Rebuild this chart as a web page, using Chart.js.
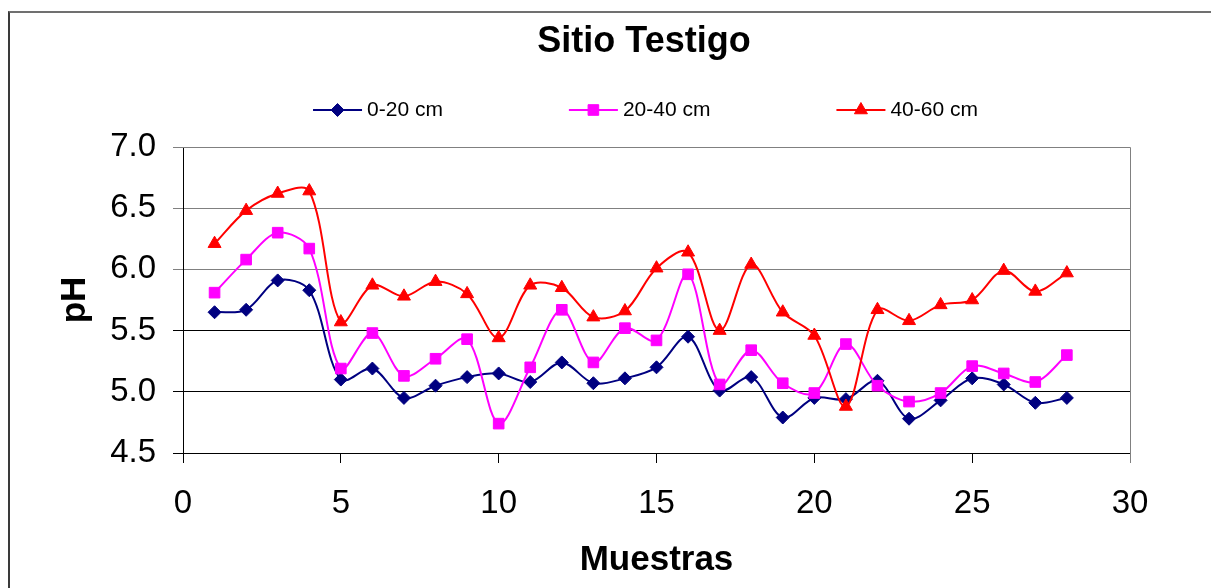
<!DOCTYPE html>
<html>
<head>
<meta charset="utf-8">
<script src="https://cdn.jsdelivr.net/npm/chart.js@4/dist/chart.umd.min.js"></script>
<style>
  html, body { margin: 0; padding: 0; background: #fff; overflow: hidden; }
  #wrap { position: relative; width: 1211px; height: 588px; overflow: hidden; }
  #frame { position: absolute; left: 8px; top: 11px; width: 1300px; height: 700px;
           border-left: 2px solid #3a3a3a; border-top: 2px solid #707070; pointer-events: none; }
</style>
</head>
<body>
<div id="wrap">
  <canvas id="c" width="1211" height="588"></canvas>
  <div id="frame"></div>
</div>
<script>
// Sample numbers along the transect
const muestras = [1, 2, 3, 4, 5, 6, 7, 8, 9, 10, 11, 12, 13, 14, 15, 16, 17, 18, 19, 20, 21, 22, 23, 24, 25, 26, 27, 28];

// Soil pH by depth
const ph0a20 = [5.65, 5.67, 5.91, 5.83, 5.10, 5.19, 4.95, 5.05, 5.12, 5.15, 5.08, 5.24, 5.07, 5.11,
                5.20, 5.45, 5.01, 5.12, 4.79, 4.95, 4.94, 5.09, 4.78, 4.93, 5.11, 5.06, 4.91, 4.95];
const ph20a40 = [5.81, 6.08, 6.30, 6.17, 5.19, 5.48, 5.13, 5.27, 5.43, 4.74, 5.20, 5.67, 5.24, 5.52,
                 5.42, 5.96, 5.06, 5.34, 5.07, 4.99, 5.39, 5.05, 4.92, 4.99, 5.21, 5.15, 5.08, 5.30];
const ph40a60 = [6.21, 6.48, 6.62, 6.64, 5.57, 5.87, 5.78, 5.90, 5.80, 5.44, 5.87, 5.85, 5.61, 5.66,
                 6.01, 6.14, 5.50, 6.04, 5.65, 5.46, 4.88, 5.67, 5.58, 5.71, 5.75, 5.99, 5.82, 5.97];

const seriesLabels = ['0-20 cm', '20-40 cm', '40-60 cm'];
const chartTitle = 'Sitio Testigo';
const xTitle = 'Muestras';
const yTitle = 'pH';

const FONT = '"Liberation Sans", Arial, Helvetica, sans-serif';
Chart.defaults.font.family = FONT;
Chart.defaults.color = '#000';

const toPoints = (vals) => muestras.map((m, i) => ({ x: m, y: vals[i] }));

function series(label, vals, color, style, radius, order) {
  return {
    label, data: toPoints(vals), order,
    borderColor: color, backgroundColor: color,
    pointBackgroundColor: color, pointBorderColor: color,
    borderWidth: 2, pointStyle: style, pointRadius: radius, pointBorderWidth: 1,
    pointHoverRadius: radius, tension: 0.33, fill: false
  };
}

// Title and line-with-marker key drawn above the plot
const headingPlugin = {
  id: 'heading',
  afterDraw(chart) {
    const ctx = chart.ctx;
    ctx.save();
    ctx.fillStyle = '#000';
    ctx.font = 'bold 36px ' + FONT;
    ctx.textAlign = 'center';
    ctx.textBaseline = 'middle';
    ctx.fillText(chartTitle, 644, 42);

    const keyY = 110, lineLen = 49, textGap = 5, itemGap = 126, centerX = 645.5;
    ctx.font = '21px ' + FONT;
    const sets = chart.data.datasets;
    const widths = sets.map(ds => lineLen + textGap + ctx.measureText(ds.label).width);
    const total = widths.reduce((a, b) => a + b, 0) + itemGap * (sets.length - 1);
    let x = centerX - total / 2;
    sets.forEach((ds, i) => {
      ctx.strokeStyle = ds.borderColor;
      ctx.lineWidth = 2;
      ctx.beginPath();
      ctx.moveTo(x, keyY);
      ctx.lineTo(x + lineLen, keyY);
      ctx.stroke();
      ctx.fillStyle = ds.pointBackgroundColor;
      ctx.strokeStyle = ds.pointBorderColor;
      ctx.lineWidth = 1;
      Chart.helpers.drawPoint(ctx, { pointStyle: ds.pointStyle, radius: ds.pointRadius, rotation: 0, borderWidth: 1 },
                              x + lineLen / 2, keyY);
      ctx.fillStyle = '#000';
      ctx.textAlign = 'left';
      ctx.fillText(ds.label, x + lineLen + textGap, keyY);
      x += widths[i] + itemGap;
    });
    ctx.restore();
  }
};

// Grey frame on the top and right edges of the plot area
const plotFramePlugin = {
  id: 'plotFrame',
  beforeDatasetsDraw(chart) {
    const { ctx, chartArea: a } = chart;
    ctx.save();
    ctx.strokeStyle = '#808080';
    ctx.lineWidth = 1;
    ctx.beginPath();
    ctx.moveTo(Math.round(a.left), Math.round(a.top) + 0.5);
    ctx.lineTo(Math.round(a.right) + 0.5, Math.round(a.top) + 0.5);
    ctx.lineTo(Math.round(a.right) + 0.5, Math.round(a.bottom) + 10);
    ctx.stroke();
    ctx.restore();
  }
};

new Chart(document.getElementById('c'), {
  type: 'line',
  data: {
    datasets: [
      series(seriesLabels[0], ph0a20, '#000080', 'rectRot', 6.5, 2),
      series(seriesLabels[1], ph20a40, '#FF00FF', 'rect', 7.5, 1),
      series(seriesLabels[2], ph40a60, '#FF0000', 'triangle', 7.5, 0)
    ]
  },
  options: {
    responsive: false,
    animation: false,
    layout: { padding: { top: 147, right: 81, bottom: 0, left: 0 } },
    plugins: {
      legend: { display: false },
      title: { display: false },
      tooltip: { enabled: false }
    },
    scales: {
      x: {
        type: 'linear', min: 0, max: 30,
        ticks: { stepSize: 5, font: { size: 33 }, padding: 21, color: '#000' },
        grid: { drawOnChartArea: false, drawTicks: true, tickLength: 10,
                color: (c) => (c.tick && c.tick.value === 30 ? '#808080' : '#000') },
        border: { color: '#000', width: 1 },
        title: { display: true, text: xTitle, font: { size: 35, weight: 'bold' }, padding: { top: 0, bottom: 7 } },
        afterFit(scale) { scale.height = 135; }
      },
      y: {
        type: 'linear', min: 4.5, max: 7.0,
        ticks: { stepSize: 0.5, font: { size: 33 }, padding: 17, color: '#000',
                 callback: (v) => Number(v).toFixed(1) },
        grid: { tickLength: 10, lineWidth: 1,
                color: (c) => (c.tick && c.tick.value >= 6 ? '#808080' : '#000') },
        border: { color: '#000', width: 1 },
        title: { display: true, text: yTitle, font: { size: 35, weight: 'bold' }, padding: { top: 54, bottom: 0 } },
        afterFit(scale) { scale.width = 183; }
      }
    }
  },
  plugins: [plotFramePlugin, headingPlugin]
});
</script>
</body>
</html>
